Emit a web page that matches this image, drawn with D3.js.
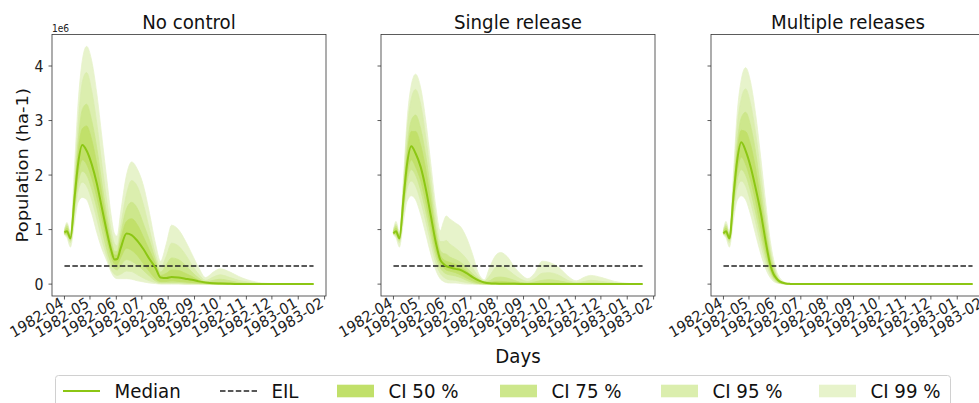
<!DOCTYPE html>
<html><head><meta charset="utf-8">
<script src="https://cdn.jsdelivr.net/npm/d3@7"></script>
<style>
body{margin:0;background:#fff}
svg{display:block;font-family:"DejaVu Sans",sans-serif}
</style>
</head><body>
<svg id="c" width="979" height="403"></svg>
<script>
// ---------------- DATA (population in millions ha-1; axis shows ×1e6) ----------------
const startDate = new Date(1982, 3, 1);
const days = [0,3,7,12,16,21,26,32,38,44, 50,55,59,62,66,73,79,86,93,100,
              107,113,120,126,134,142,150,158,166,175, 183,195,205,215,225,232,245,260,278,293];
const panelTitles = ["No control", "Single release", "Multiple releases"];
const eilValue = 0.33;
const legendLabels = ["Median", "EIL", "CI 50 %", "CI 75 %", "CI 95 %", "CI 99 %"];

// Panel 1: No control
const median1 = [.95,.97,.84,1.6,2.2,2.55,2.45,2.2,1.85,1.4, .95,.62,.45,.46,.65,.93,.9,.79,.64,.46,
                 .3,.12,.11,.13,.12,.10,.08,.05,.03,.015, .01,.005,.003,.002,.001,0,0,0,0,0];
const hi99_1 = [1.0,1.13,.95,2.2,3.3,4.1,4.36,4.1,3.5,2.7, 1.9,1.25,.92,.88,1.3,2.0,2.24,2.1,1.8,1.3,
                .75,.42,.75,1.08,1.0,.8,.55,.3,.12,.22, .28,.22,.14,.08,.04,.02,.01,0,0,0];
const hi95_1 = [.98,1.1,.9,1.9,2.9,3.7,3.88,3.55,2.95,2.2, 1.5,.98,.74,.7,1.05,1.65,1.9,1.78,1.45,1.0,
                .55,.3,.52,.75,.7,.55,.35,.18,.07,.13, .17,.12,.07,.04,.02,.01,0,0,0,0];
const hi75_1 = [.97,1.07,.88,1.8,2.6,3.2,3.3,3.0,2.5,1.85, 1.25,.82,.6,.6,.9,1.38,1.5,1.38,1.1,.8,
                .45,.22,.36,.48,.45,.35,.22,.11,.04,.07, .09,.06,.03,.015,.005,0,0,0,0,0];
const hi50_1 = [.96,1.03,.86,1.7,2.4,2.85,2.9,2.65,2.2,1.65, 1.1,.72,.53,.53,.8,1.15,1.2,1.08,.86,.62,
                .38,.16,.2,.26,.25,.2,.14,.07,.03,.03, .03,.02,.01,.005,0,0,0,0,0,0];
const lo50_1 = [.93,.92,.82,1.5,2.0,2.28,2.2,1.95,1.6,1.2, .8,.5,.37,.36,.48,.66,.62,.52,.37,.23,
                .1,.05,.05,.06,.05,.04,.03,.02,.01,.005, 0,0,0,0,0,0,0,0,0,0];
const lo75_1 = [.92,.9,.8,1.4,1.85,2.07,2.0,1.75,1.4,1.0, .62,.38,.28,.26,.34,.45,.42,.35,.25,.15,
                .06,.03,.03,.03,.03,.02,.015,.01,.005,0, 0,0,0,0,0,0,0,0,0,0];
const lo95_1 = [.91,.88,.76,1.3,1.7,1.87,1.8,1.55,1.2,.82, .5,.27,.18,.16,.18,.24,.23,.17,.11,.06,
                .03,.01,.01,.01,.01,0,0,0,0,0, 0,0,0,0,0,0,0,0,0,0];
const lo99_1 = [.9,.85,.68,1.15,1.5,1.59,1.55,1.3,.95,.65, .42,.22,.12,.1,.1,.1,.09,.06,.04,.02,
                .01,0,0,0,0,0,0,0,0,0, 0,0,0,0,0,0,0,0,0,0];

// Panel 2: Single release
const median2 = [.93,.97,.84,1.6,2.2,2.53,2.4,2.15,1.75,1.25, .75,.45,.37,.33,.31,.28,.26,.2,.13,.07,
                 .03,.015,.01,.008,.006,.005,.004,.003,.002,.002, .001,.001,0,0,0,0,0,0,0,0];
const hi99_2 = [1.0,1.15,.95,2.0,3.0,3.65,3.85,3.6,3.0,2.2, 1.4,.98,1.15,1.25,1.2,1.12,1.05,.85,.55,.2,
                .08,.3,.52,.58,.5,.32,.18,.1,.2,.42, .4,.3,.15,.06,.13,.16,.12,.05,.01,0];
const hi95_2 = [.98,1.1,.9,1.85,2.8,3.4,3.57,3.3,2.7,1.95, 1.2,.78,.78,.8,.74,.66,.58,.46,.3,.14,
                .06,.15,.3,.33,.27,.17,.09,.05,.1,.2, .21,.16,.07,.03,.05,.07,.05,.02,0,0];
const hi75_2 = [.97,1.07,.88,1.75,2.5,3.0,3.1,2.85,2.35,1.7, 1.0,.62,.56,.55,.5,.45,.4,.3,.19,.1,
                .04,.06,.12,.13,.11,.07,.03,.02,.04,.07, .08,.06,.03,.01,.015,.02,.015,.005,0,0];
const hi50_2 = [.96,1.03,.86,1.68,2.35,2.8,2.8,2.55,2.1,1.5, .9,.54,.45,.42,.4,.36,.32,.24,.15,.08,
                .035,.03,.05,.05,.04,.03,.02,.01,.015,.02, .02,.015,.01,.005,0,0,0,0,0,0];
const lo50_2 = [.93,.92,.82,1.5,2.0,2.28,2.15,1.9,1.5,1.05, .6,.37,.3,.26,.24,.21,.17,.11,.06,.02,
                .006,.002,0,0,0,0,0,0,0,0, 0,0,0,0,0,0,0,0,0,0];
const lo75_2 = [.92,.9,.8,1.42,1.88,2.1,2.0,1.72,1.33,.9, .5,.3,.22,.19,.17,.15,.12,.07,.03,.01,
                0,0,0,0,0,0,0,0,0,0, 0,0,0,0,0,0,0,0,0,0];
const lo95_2 = [.91,.88,.76,1.33,1.75,1.89,1.8,1.52,1.15,.75, .38,.2,.13,.1,.08,.07,.05,.03,.01,0,
                0,0,0,0,0,0,0,0,0,0, 0,0,0,0,0,0,0,0,0,0];
const lo99_2 = [.9,.85,.68,1.18,1.52,1.62,1.55,1.28,.92,.55, .25,.1,.05,.03,.02,.02,.01,0,0,0,
                0,0,0,0,0,0,0,0,0,0, 0,0,0,0,0,0,0,0,0,0];

// Panel 3: Multiple releases
const median3 = [.93,.97,.84,1.65,2.25,2.6,2.45,2.15,1.75,1.3, .75,.36,.18,.11,.05,.012,.004,0,0,0,
                 0,0,0,0,0,0,0,0,0,0, 0,0,0,0,0,0,0,0,0,0];
const hi99_3 = [1.0,1.15,.95,2.1,3.1,3.75,3.97,3.7,3.1,2.3, 1.45,.8,.45,.26,.12,.03,.01,0,0,0,
                0,0,0,0,0,0,0,0,0,0, 0,0,0,0,0,0,0,0,0,0];
const hi95_3 = [.98,1.1,.9,1.9,2.85,3.4,3.58,3.3,2.75,2.0, 1.25,.65,.36,.2,.08,.02,.005,0,0,0,
                0,0,0,0,0,0,0,0,0,0, 0,0,0,0,0,0,0,0,0,0];
const hi75_3 = [.97,1.07,.88,1.8,2.55,3.05,3.15,2.9,2.4,1.72, 1.05,.55,.3,.17,.07,.015,.004,0,0,0,
                0,0,0,0,0,0,0,0,0,0, 0,0,0,0,0,0,0,0,0,0];
const hi50_3 = [.96,1.03,.86,1.72,2.4,2.82,2.8,2.55,2.1,1.5, .9,.46,.24,.14,.06,.013,.004,0,0,0,
                0,0,0,0,0,0,0,0,0,0, 0,0,0,0,0,0,0,0,0,0];
const lo50_3 = [.93,.92,.82,1.55,2.05,2.33,2.2,1.9,1.5,1.03, .58,.28,.13,.08,.03,.008,0,0,0,0,
                0,0,0,0,0,0,0,0,0,0, 0,0,0,0,0,0,0,0,0,0];
const lo75_3 = [.92,.9,.8,1.45,1.9,2.1,2.0,1.7,1.3,.88, .48,.24,.11,.06,.02,.005,0,0,0,0,
                0,0,0,0,0,0,0,0,0,0, 0,0,0,0,0,0,0,0,0,0];
const lo95_3 = [.91,.88,.76,1.35,1.75,1.89,1.8,1.5,1.12,.72, .38,.18,.08,.04,.015,.003,0,0,0,0,
                0,0,0,0,0,0,0,0,0,0, 0,0,0,0,0,0,0,0,0,0];
const lo99_3 = [.9,.85,.68,1.2,1.53,1.62,1.55,1.27,.9,.55, .27,.12,.05,.025,.01,0,0,0,0,0,
                0,0,0,0,0,0,0,0,0,0, 0,0,0,0,0,0,0,0,0,0];

const yTickValues = [0, 1, 2, 3, 4];

// ---------------- BUILD ----------------
const panels = [
  {median: median1, bands: [[lo99_1,hi99_1],[lo95_1,hi95_1],[lo75_1,hi75_1],[lo50_1,hi50_1]]},
  {median: median2, bands: [[lo99_2,hi99_2],[lo95_2,hi95_2],[lo75_2,hi75_2],[lo50_2,hi50_2]]},
  {median: median3, bands: [[lo99_3,hi99_3],[lo95_3,hi95_3],[lo75_3,hi75_3],[lo50_3,hi50_3]]}
];
const bandColors = ["#e7f3cb", "#dbeeae", "#cde78c", "#c1e06a"]; // 99, 95, 75, 50
const medianColor = "#8cc614";
const axisColor = "#333";
const SX = 0.91; // horizontal text squeeze seen in the reference

const dates = days.map(d => d3.timeDay.offset(startDate, d));
const panelLeft = [52, 381, 711], panelW = 274, plotTop = 34.5, plotBottom = 296;

const t0 = +dates[0], t1 = +dates[dates.length - 1], tm = 0.05 * (t1 - t0);
const allHi = [].concat(hi99_1, hi99_2, hi99_3);
const yMax = d3.max(allHi), yMin = 0, ym = 0.05 * (yMax - yMin);

const svg = d3.select("#c");
const defs = svg.append("defs");

function label(parent, x, y, str, size, anchor, rot, color) {
  const g = parent.append("g")
    .attr("transform", `translate(${x},${y}) scale(${SX},1)` + (rot ? ` rotate(${rot})` : ""));
  g.append("text").attr("text-anchor", anchor || "start").attr("font-size", size)
    .attr("fill", color || "#111").text(str);
  return g;
}

const x = d3.scaleTime().domain([new Date(t0 - tm), new Date(t1 + tm)]).range([0, panelW]);
const y = d3.scaleLinear().domain([yMin - ym, yMax + ym]).range([plotBottom, plotTop]);
const monthTicks = d3.timeMonth.range(new Date(1982, 3, 1), new Date(1983, 1, 2));
const fmt = d3.timeFormat("%Y-%m");

panels.forEach((p, i) => {
  const g = svg.append("g").attr("transform", `translate(${panelLeft[i]},0)`);
  defs.append("clipPath").attr("id", "clip" + i).append("rect")
    .attr("x", 0).attr("y", plotTop).attr("width", panelW).attr("height", plotBottom - plotTop);
  const plot = g.append("g").attr("clip-path", `url(#clip${i})`);

  p.bands.forEach((b, k) => {
    const area = d3.area().curve(d3.curveMonotoneX)
      .x((d, j) => x(dates[j])).y0((d, j) => y(b[0][j])).y1((d, j) => y(b[1][j]));
    plot.append("path").datum(days).attr("d", area)
      .attr("fill", bandColors[k]).attr("stroke", bandColors[k]).attr("stroke-width", 0.8);
  });

  plot.append("line")
    .attr("x1", x(dates[0])).attr("x2", x(dates[dates.length - 1]))
    .attr("y1", y(eilValue)).attr("y2", y(eilValue))
    .attr("stroke", "#222").attr("stroke-width", 1.5).attr("stroke-dasharray", "5.5,2.4");

  const line = d3.line().curve(d3.curveMonotoneX)
    .x((d, j) => x(dates[j])).y((d, j) => y(p.median[j]));
  plot.append("path").datum(days).attr("d", line)
    .attr("fill", "none").attr("stroke", medianColor).attr("stroke-width", 2);

  g.append("rect").attr("x", 0).attr("y", plotTop).attr("width", panelW).attr("height", plotBottom - plotTop)
    .attr("fill", "none").attr("stroke", axisColor).attr("stroke-width", 0.8);

  yTickValues.forEach(v => {
    g.append("line").attr("x1", -3.5).attr("x2", 0).attr("y1", y(v)).attr("y2", y(v))
      .attr("stroke", axisColor).attr("stroke-width", 0.8);
    if (i === 0) label(g, -8.5, y(v) + 5.6, String(v), 15.5, "end", 0, "#222");
  });
  monthTicks.forEach(m => {
    const xx = x(m);
    g.append("line").attr("x1", xx).attr("x2", xx).attr("y1", plotBottom).attr("y2", plotBottom + 3.5)
      .attr("stroke", axisColor).attr("stroke-width", 0.8);
    label(g, xx, plotBottom + 10, fmt(m), 15.5, "end", -30, "#222");
  });

  label(g, panelW / 2, 29.3, panelTitles[i], 20, "middle");

  if (i === 0) {
    label(g, 0, 31.5, "1e6", 10, "start", 0, "#222");
    label(g, -24, (plotTop + plotBottom) / 2, "Population (ha-1)", 18, "middle", -90);
  }
  if (i === 1) label(g, panelW / 2, 362.5, "Days", 20, "middle");
});

// ---------------- LEGEND ----------------
const lg = svg.append("g");
lg.append("rect").attr("x", 55.5).attr("y", 375.5).attr("width", 895).attr("height", 36).attr("rx", 3)
  .attr("fill", "#fff").attr("stroke", "#d0d0d0").attr("stroke-width", 1);
const legendX = [63, 220, 337, 500, 661, 819];
const ly = 391;
legendLabels.forEach((lab, k) => {
  const lx = legendX[k];
  if (k === 0) {
    lg.append("line").attr("x1", lx).attr("x2", lx + 37).attr("y1", ly).attr("y2", ly)
      .attr("stroke", medianColor).attr("stroke-width", 2);
  } else if (k === 1) {
    lg.append("line").attr("x1", lx).attr("x2", lx + 37).attr("y1", ly).attr("y2", ly)
      .attr("stroke", "#222").attr("stroke-width", 1.5).attr("stroke-dasharray", "5.5,2.4");
  } else {
    lg.append("rect").attr("x", lx).attr("y", ly - 6.3).attr("width", 37).attr("height", 12.6)
      .attr("fill", bandColors[5 - k]);
  }
  label(lg, lx + 51.5, 397.5, lab, 20, "start");
});
</script>
</body></html>
